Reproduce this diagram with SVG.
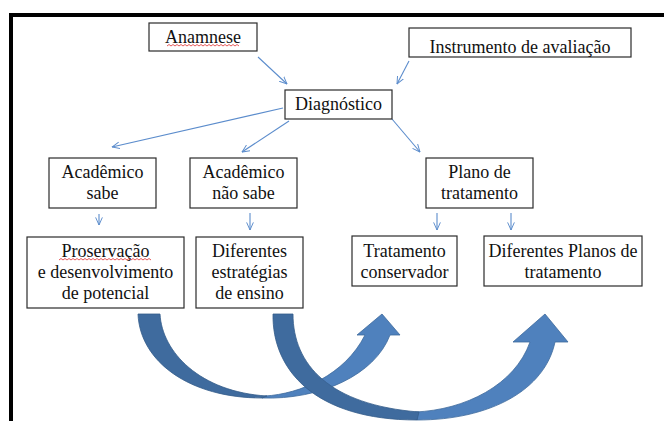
<svg xmlns="http://www.w3.org/2000/svg" width="664" height="421" viewBox="0 0 664 421">
<defs>
<style>
.box{fill:#fff;stroke:#2b2b2b;stroke-width:1.2}
.t{font-family:'Liberation Serif','Tinos','DejaVu Serif',serif;font-size:18px;fill:#111;text-anchor:middle}
.c{stroke:#5b8ccc;stroke-width:1.1;fill:none}
.wavy{fill:none;stroke:#e03030;stroke-width:0.8}
.light{fill:#4f81bd;stroke:#3d6a9c;stroke-width:0.8}
.dark{fill:#3f6b9e;stroke:#355d8a;stroke-width:0.8}
</style>
<marker id="ah" viewBox="0 0 10 10" refX="9.5" refY="5" markerWidth="8" markerHeight="8" orient="auto" markerUnits="userSpaceOnUse">
<path d="M0,0.8 L9.5,5 L0,9.2" fill="none" stroke="#5b8ccc" stroke-width="1.2"/>
</marker>
</defs>
<rect x="0" y="0" width="664" height="421" fill="#fff"/>
<rect x="11" y="15" width="700" height="450" fill="none" stroke="#000" stroke-width="4"/>

<g id="connectors">
<line class="c" x1="258" y1="57" x2="287" y2="84" marker-end="url(#ah)"/>
<line class="c" x1="409" y1="61" x2="397" y2="84" marker-end="url(#ah)"/>
<line class="c" x1="283" y1="108" x2="112" y2="147" marker-end="url(#ah)"/>
<line class="c" x1="289" y1="121" x2="242" y2="152" marker-end="url(#ah)"/>
<line class="c" x1="392" y1="119" x2="420" y2="152" marker-end="url(#ah)"/>
<line class="c" x1="99" y1="214" x2="99" y2="225" marker-end="url(#ah)"/>
<line class="c" x1="250" y1="213" x2="250" y2="230" marker-end="url(#ah)"/>
<line class="c" x1="437" y1="213" x2="437" y2="230" marker-end="url(#ah)"/>
<line class="c" x1="511" y1="213" x2="511" y2="230" marker-end="url(#ah)"/>
</g>

<g id="anamnese">
<rect class="box" x="149" y="23" width="108" height="28"/>
<text class="t" x="203" y="43" font-family="Liberation Serif, serif">Anamnese</text>
<path class="wavy" d="M167,46 l2,-1.5 l2,1.5 l2,-1.5 l2,1.5 l2,-1.5 l2,1.5 l2,-1.5 l2,1.5 l2,-1.5 l2,1.5 l2,-1.5 l2,1.5 l2,-1.5 l2,1.5 l2,-1.5 l2,1.5 l2,-1.5 l2,1.5 l2,-1.5 l2,1.5 l2,-1.5 l2,1.5 l2,-1.5 l2,1.5 l2,-1.5 l2,1.5 l2,-1.5 l2,1.5 l2,-1.5 l2,1.5 l2,-1.5 l2,1.5 l2,-1.5 l2,1.5 l2,-1.5 l2,1.5"/>
</g>

<g id="instrumento">
<rect class="box" x="409" y="28" width="222" height="29"/>
<text class="t" x="520" y="53">Instrumento de avaliação</text>
</g>

<g id="diagnostico">
<rect class="box" x="285" y="90" width="107" height="29"/>
<text class="t" x="338.5" y="110">Diagnóstico</text>
</g>

<g id="academico-sabe">
<rect class="box" x="49" y="158" width="107" height="50"/>
<text class="t" x="102.5" y="178">Acadêmico</text>
<text class="t" x="102.5" y="199">sabe</text>
</g>

<g id="academico-nao-sabe">
<rect class="box" x="190" y="158" width="107" height="50"/>
<text class="t" x="243.5" y="178">Acadêmico</text>
<text class="t" x="243.5" y="199">não sabe</text>
</g>

<g id="plano">
<rect class="box" x="426" y="158" width="107" height="50"/>
<text class="t" x="479.5" y="178">Plano de</text>
<text class="t" x="479.5" y="199">tratamento</text>
</g>

<g id="proservacao">
<rect class="box" x="27" y="237" width="157" height="71"/>
<text class="t" x="105.5" y="257">Proservação</text>
<text class="t" x="105.5" y="278">e desenvolvimento</text>
<text class="t" x="105.5" y="299">de potencial</text>
<path class="wavy" d="M59,260 l2,-1.5 l2,1.5 l2,-1.5 l2,1.5 l2,-1.5 l2,1.5 l2,-1.5 l2,1.5 l2,-1.5 l2,1.5 l2,-1.5 l2,1.5 l2,-1.5 l2,1.5 l2,-1.5 l2,1.5 l2,-1.5 l2,1.5 l2,-1.5 l2,1.5 l2,-1.5 l2,1.5 l2,-1.5 l2,1.5 l2,-1.5 l2,1.5 l2,-1.5 l2,1.5 l2,-1.5 l2,1.5 l2,-1.5 l2,1.5 l2,-1.5 l2,1.5 l2,-1.5 l2,1.5 l2,-1.5 l2,1.5 l2,-1.5 l2,1.5 l2,-1.5 l2,1.5 l2,-1.5 l2,1.5 l2,-1.5 l2,1.5"/>
</g>

<g id="diferentes-estrategias">
<rect class="box" x="196" y="237" width="107" height="71"/>
<text class="t" x="249.5" y="257">Diferentes</text>
<text class="t" x="249.5" y="278">estratégias</text>
<text class="t" x="249.5" y="299">de ensino</text>
</g>

<g id="tratamento-conservador">
<rect class="box" x="352" y="236" width="105" height="50"/>
<text class="t" x="404.5" y="257">Tratamento</text>
<text class="t" x="404.5" y="278">conservador</text>
</g>

<g id="diferentes-planos">
<rect class="box" x="484" y="236" width="158" height="50"/>
<text class="t" x="563" y="257">Diferentes Planos de</text>
<text class="t" x="563" y="278">tratamento</text>
</g>

<g id="curved-arrow-1">
<path class="light" d="M265,396 C300,394 345,375 365,335 L357,335 L382,314 L400,335 L390,335 C375,375 320,400 262,398 Z"/>
<path class="dark" d="M138,314 L160,314 C162,352 200,392 267,396 L262,398 C190,398 140,362 138,314 Z"/>
</g>
<g id="curved-arrow-2">
<path class="light" d="M415,412 C465,410 515,385 530,342 L513,342 L545,314 L568,342 L555,342 C545,390 490,420 417,420 Z"/>
<path class="dark" d="M273,314 L293,314 C293,365 330,405 419,412 L417,420 C315,420 272,370 273,314 Z"/>
</g>
</svg>
